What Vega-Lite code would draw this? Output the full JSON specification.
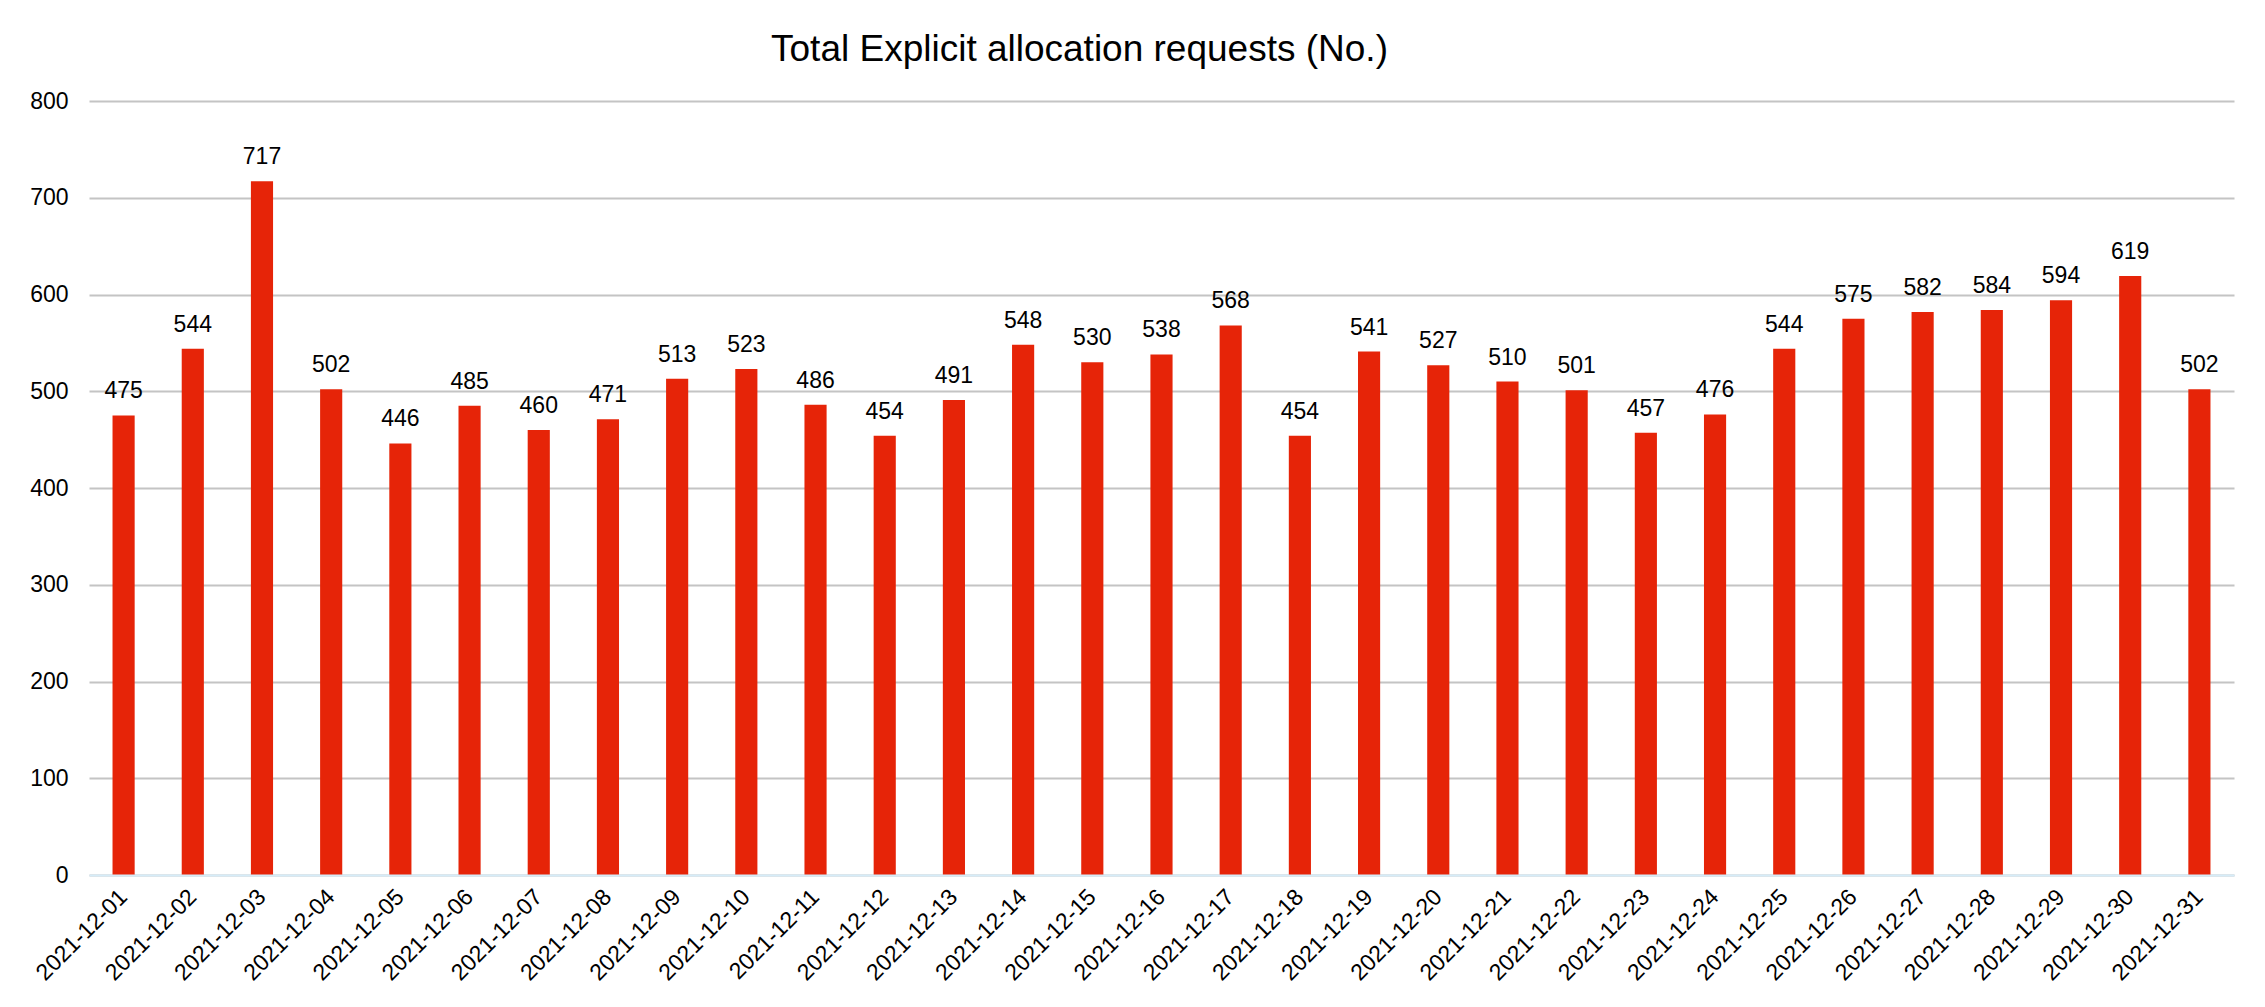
{
  "$schema": "https://vega.github.io/schema/vega-lite/v6.json",
  "width": 2145,
  "height": 774,
  "autosize": {"type": "none"},
  "padding": {"left": 89, "top": 101, "right": 31, "bottom": 132},
  "background": "white",
  "title": {
    "text": "Total Explicit allocation requests (No.)",
    "font": "Liberation Sans",
    "fontSize": 37,
    "fontWeight": "normal",
    "color": "#000000",
    "anchor": "middle",
    "frame": "group",
    "baseline": "alphabetic",
    "offset": -8,
    "dx": -82
  },
  "config": {
    "view": {"stroke": null},
    "font": "Liberation Sans",
    "text": {"font": "Liberation Sans"}
  },
  "data": {
    "values": [
      {"date": "2021-12-01", "requests": 475},
      {"date": "2021-12-02", "requests": 544},
      {"date": "2021-12-03", "requests": 717},
      {"date": "2021-12-04", "requests": 502},
      {"date": "2021-12-05", "requests": 446},
      {"date": "2021-12-06", "requests": 485},
      {"date": "2021-12-07", "requests": 460},
      {"date": "2021-12-08", "requests": 471},
      {"date": "2021-12-09", "requests": 513},
      {"date": "2021-12-10", "requests": 523},
      {"date": "2021-12-11", "requests": 486},
      {"date": "2021-12-12", "requests": 454},
      {"date": "2021-12-13", "requests": 491},
      {"date": "2021-12-14", "requests": 548},
      {"date": "2021-12-15", "requests": 530},
      {"date": "2021-12-16", "requests": 538},
      {"date": "2021-12-17", "requests": 568},
      {"date": "2021-12-18", "requests": 454},
      {"date": "2021-12-19", "requests": 541},
      {"date": "2021-12-20", "requests": 527},
      {"date": "2021-12-21", "requests": 510},
      {"date": "2021-12-22", "requests": 501},
      {"date": "2021-12-23", "requests": 457},
      {"date": "2021-12-24", "requests": 476},
      {"date": "2021-12-25", "requests": 544},
      {"date": "2021-12-26", "requests": 575},
      {"date": "2021-12-27", "requests": 582},
      {"date": "2021-12-28", "requests": 584},
      {"date": "2021-12-29", "requests": 594},
      {"date": "2021-12-30", "requests": 619},
      {"date": "2021-12-31", "requests": 502}
    ]
  },
  "encoding": {
    "x": {
      "field": "date",
      "type": "ordinal",
      "sort": null,
      "scale": {"paddingInner": 0.68, "paddingOuter": 0.34},
      "axis": {
        "title": null,
        "labelAngle": -45,
        "labelAlign": "right",
        "labelBaseline": "middle",
        "labelFont": "Liberation Sans",
        "labelFontSize": 23,
        "labelColor": "#000000",
        "labelPadding": 18,
        "ticks": false,
        "domainColor": "#d6ecf8",
        "domainWidth": 2,
        "zindex": 1
      }
    },
    "y": {
      "field": "requests",
      "type": "quantitative",
      "scale": {"domain": [0, 800], "nice": false},
      "axis": {
        "title": null,
        "values": [0, 100, 200, 300, 400, 500, 600, 700, 800],
        "labelFont": "Liberation Sans",
        "labelFontSize": 23,
        "labelColor": "#000000",
        "labelPadding": 21,
        "ticks": false,
        "domain": false,
        "gridColor": "#c4c4c4",
        "gridWidth": 2
      }
    }
  },
  "layer": [
    {"mark": {"type": "bar", "color": "#E62408"}},
    {
      "mark": {
        "type": "text",
        "baseline": "alphabetic",
        "dy": -17,
        "fontSize": 23,
        "color": "#000000",
        "font": "Liberation Sans"
      },
      "encoding": {"text": {"field": "requests", "type": "quantitative"}}
    }
  ]
}
